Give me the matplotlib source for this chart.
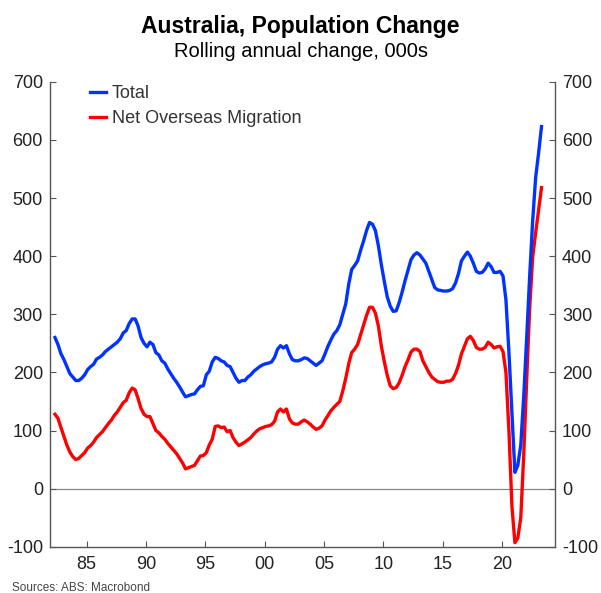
import pandas as pd
import matplotlib.pyplot as plt
import matplotlib.dates as mdates

plt.rcParams['font.family'] = ['Liberation Sans', 'DejaVu Sans']
plt.rcParams['axes.unicode_minus'] = False

# Quarterly, year to Jun 1982 ... year to Jun 2023
dates = pd.date_range('1982-05-01', periods=165, freq='3MS')

total = [
    260, 248, 232,
    222, 210, 198, 192,
    186, 186, 190, 196,
    205, 210, 214, 223,
    226, 230, 236, 240,
    244, 248, 252, 258,
    268, 272, 284, 292,
    292, 280, 260, 250,
    244, 252, 248, 234,
    230, 220, 216, 206,
    198, 190, 183, 175,
    166, 158, 160, 162,
    163, 170, 176, 177,
    196, 202, 218, 226,
    224, 220, 218, 212,
    210, 200, 190, 183,
    186, 186, 192, 196,
    202, 206, 210, 213,
    215, 216, 218, 226,
    240, 246, 242, 246,
    232, 222, 220, 220,
    222, 225, 224, 220,
    216, 212, 216, 220,
    232, 245, 256, 266,
    272, 282, 300, 318,
    352, 377, 384, 392,
    410, 426, 444, 458,
    455, 444, 418, 385,
    356, 330, 314, 305,
    306, 320, 338, 358,
    376, 394, 402, 406,
    402, 395, 388, 374,
    360, 346, 342, 341,
    340, 340, 341, 344,
    354, 370, 392, 400,
    407, 400, 388, 374,
    371, 372, 378, 388,
    382, 372, 372, 374,
    366, 325, 235, 130,
    28, 40, 75, 160,
    262, 365, 460, 535,
    578, 623,
]

nom = [
    128, 121, 105,
    90, 75, 63, 55,
    50, 52, 57, 62,
    70, 74, 80, 88,
    93, 98, 105, 112,
    118, 126, 132, 140,
    148, 152, 165, 173,
    170, 155, 138, 128,
    124, 124, 112, 100,
    96, 90, 85, 78,
    72, 66, 60, 52,
    44, 34, 36, 38,
    40, 48, 56, 57,
    62, 75, 85, 107,
    108, 105, 106, 98,
    100, 88, 80, 74,
    77, 80, 84, 88,
    94, 99, 103, 105,
    107, 108, 110, 116,
    132, 137, 132, 137,
    120, 113, 111, 111,
    115, 118, 115, 111,
    106, 102, 104, 108,
    118, 126, 134, 140,
    145, 150, 168, 190,
    215, 234, 240, 248,
    265, 281, 298, 312,
    312, 302, 280, 245,
    218, 195, 177, 172,
    174, 182, 195, 210,
    222, 235, 240, 240,
    236, 220, 210, 200,
    192, 188, 184, 183,
    183, 185, 185, 188,
    198, 212, 232, 245,
    258, 262, 255, 243,
    240, 240, 243, 252,
    248, 242, 244, 245,
    236, 200, 100, -30,
    -93, -85, -50, 60,
    190, 310, 398, 440,
    480, 518,
]

fig = plt.figure(figsize=(6.01, 5.93), dpi=100)
ax = fig.add_axes([0.083, 0.078, 0.8405, 0.784])

ax.axhline(0, color='#888888', lw=0.9, zorder=1)
ax.plot(dates, total, color='#0033ff', lw=2.4, label='Total', zorder=3)
ax.plot(dates, nom, color='#ff0000', lw=2.4, label='Net Overseas Migration', zorder=2)

ax.set_ylim(-100, 700)
ax.set_yticks(range(-100, 701, 100))
ax.set_xlim(pd.Timestamp('1981-11-25'), pd.Timestamp('2024-06-20'))
ax.xaxis.set_major_locator(mdates.YearLocator(5))
ax.xaxis.set_major_formatter(mdates.DateFormatter('%y'))

ax.spines['top'].set_visible(False)
for s in ['left', 'right', 'bottom']:
    ax.spines[s].set_color('#555555')
    ax.spines[s].set_linewidth(1.0)

ax.tick_params(axis='both', direction='in', length=4, color='#555555',
               labelsize=13, labelcolor='#222222')
ax.tick_params(axis='y', right=True, labelright=True, pad=5)
ax.tick_params(axis='x', pad=7)

leg = ax.legend(loc='upper left', bbox_to_anchor=(0.065, 1.008), frameon=False,
                fontsize=13, handlelength=0.9, handletextpad=0.3,
                labelspacing=0.45, borderaxespad=0)
for t in leg.get_texts():
    t.set_color('#333333')

fig.text(0.5, 0.944, 'Australia, Population Change', ha='center', va='baseline',
         fontsize=16.5, fontweight='bold')
fig.text(0.5, 0.904, 'Rolling annual change, 000s', ha='center', va='baseline',
         fontsize=14.5)
fig.text(0.02, 0.004, 'Sources: ABS: Macrobond', ha='left', va='baseline',
         fontsize=8.5, color='#444444')

fig.savefig('out.png', dpi=100)
